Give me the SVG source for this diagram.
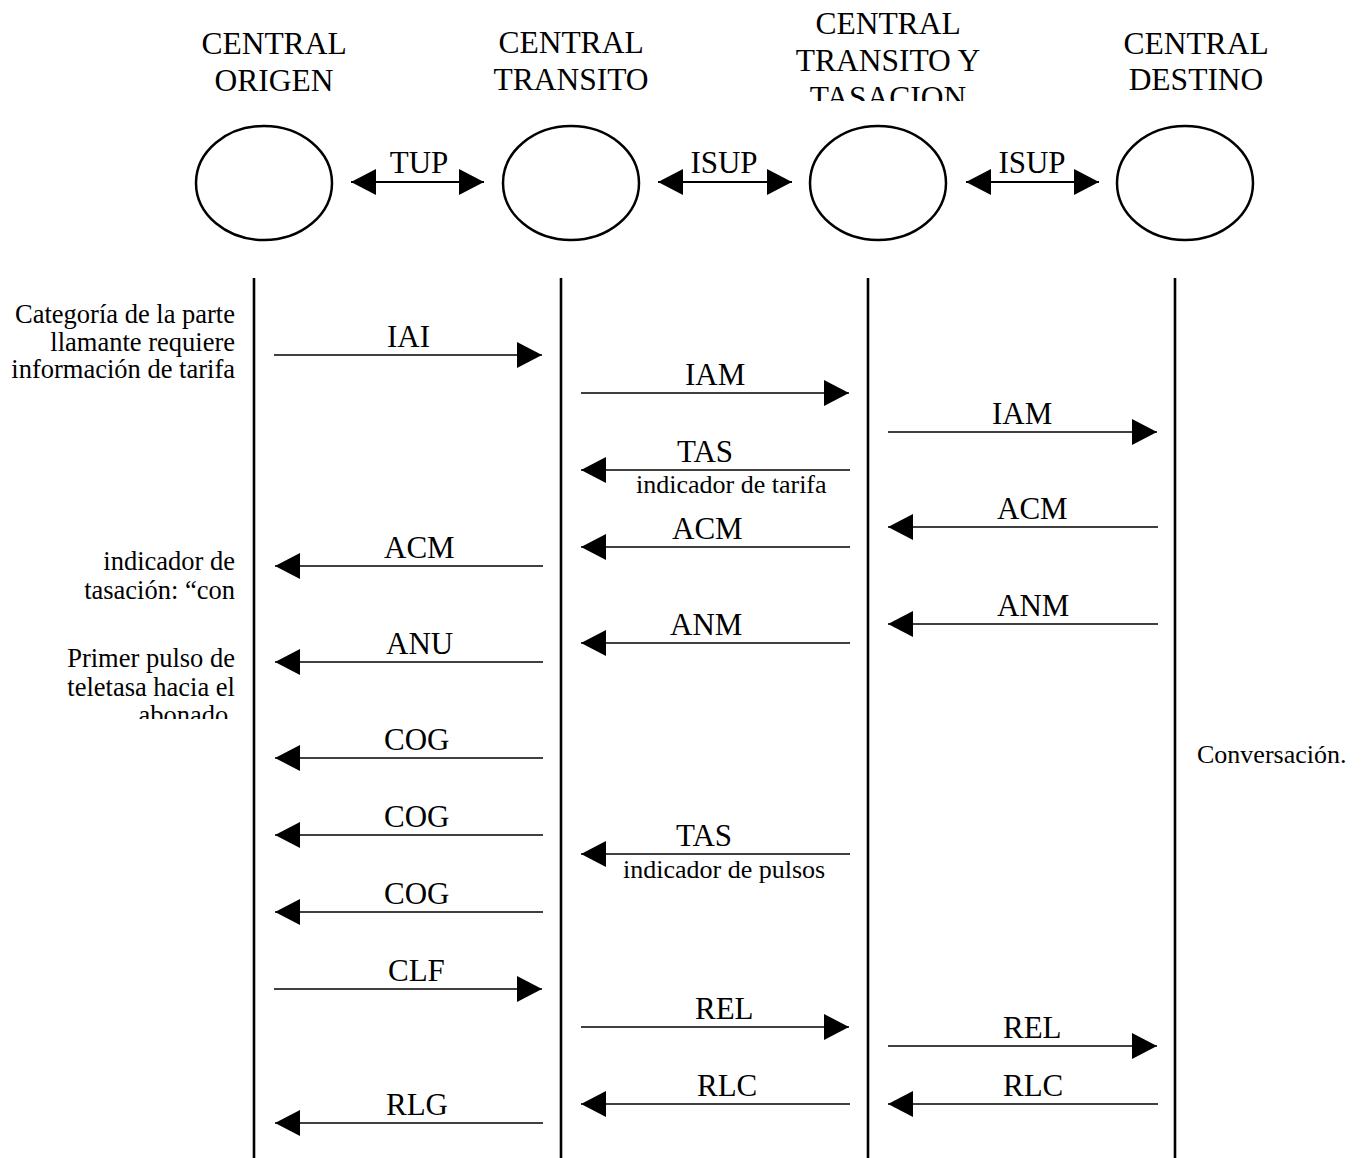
<svg xmlns="http://www.w3.org/2000/svg" width="1367" height="1158" viewBox="0 0 1367 1158">
<style>
text{font-family:"Liberation Serif","Times New Roman",serif;fill:#000}
.hd{font-size:31.5px;text-anchor:middle}
.pr{font-size:31px;text-anchor:middle}
.lb{font-size:31px}
.sm{font-size:26px}
.sd{font-size:26.5px;text-anchor:end}
.el{fill:#fff;stroke:#000;stroke-width:2.5}
.ll{stroke:#000;stroke-width:2.6;fill:none}
.ar{stroke:#000;stroke-width:1.7;fill:none;marker-end:url(#ah)}
.bi{stroke:#000;stroke-width:2;fill:none;marker-start:url(#ah);marker-end:url(#ah)}
</style>
<defs>
<marker id="ah" viewBox="0 0 25 26" refX="25" refY="13" markerWidth="25" markerHeight="26" markerUnits="userSpaceOnUse" orient="auto-start-reverse">
<path d="M0,0 L25,13 L0,26 Z" fill="#000"/>
</marker>
<clipPath id="c3"><rect x="700" y="0" width="400" height="101"/></clipPath>
<clipPath id="cs"><rect x="0" y="630" width="250" height="89"/></clipPath>
</defs>
<rect width="1367" height="1158" fill="#fff"/>

<g id="node-origen">
<text class="hd" x="274" y="54">CENTRAL</text>
<text class="hd" x="274" y="91">ORIGEN</text>
<ellipse class="el" cx="264" cy="183" rx="68" ry="57"/>
</g>
<g id="node-transito">
<text class="hd" x="571" y="53">CENTRAL</text>
<text class="hd" x="571" y="90">TRANSITO</text>
<ellipse class="el" cx="571" cy="183" rx="68" ry="57"/>
</g>
<g id="node-transito-tasacion">
<g clip-path="url(#c3)">
<text class="hd" x="888" y="34">CENTRAL</text>
<text class="hd" x="888" y="71">TRANSITO Y</text>
<text class="hd" x="888" y="108">TASACION</text>
</g>
<ellipse class="el" cx="878" cy="183" rx="68" ry="57"/>
</g>
<g id="node-destino">
<text class="hd" x="1196" y="54">CENTRAL</text>
<text class="hd" x="1196" y="90">DESTINO</text>
<ellipse class="el" cx="1185" cy="183" rx="68" ry="57"/>
</g>

<g id="lifelines">
<line class="ll" x1="254" y1="278" x2="254" y2="1158"/>
<line class="ll" x1="561" y1="278" x2="561" y2="1158"/>
<line class="ll" x1="868" y1="278" x2="868" y2="1158"/>
<line class="ll" x1="1175" y1="278" x2="1175" y2="1158"/>
</g>

<g id="connectors">
<line class="bi" x1="351" y1="182" x2="484" y2="182"/>
<line class="bi" x1="658" y1="182" x2="792" y2="182"/>
<line class="bi" x1="966" y1="182" x2="1099" y2="182"/>

<line class="ar" x1="274" y1="355" x2="542" y2="355"/>
<line class="ar" x1="581" y1="393" x2="849" y2="393"/>
<line class="ar" x1="888" y1="432" x2="1157" y2="432"/>
<line class="ar" x1="850" y1="470" x2="581" y2="470"/>
<line class="ar" x1="1158" y1="527" x2="888" y2="527"/>
<line class="ar" x1="850" y1="547" x2="581" y2="547"/>
<line class="ar" x1="543" y1="566" x2="275" y2="566"/>
<line class="ar" x1="1158" y1="624" x2="888" y2="624"/>
<line class="ar" x1="850" y1="643" x2="581" y2="643"/>
<line class="ar" x1="543" y1="662" x2="275" y2="662"/>
<line class="ar" x1="543" y1="758" x2="275" y2="758"/>
<line class="ar" x1="543" y1="835" x2="275" y2="835"/>
<line class="ar" x1="850" y1="854" x2="581" y2="854"/>
<line class="ar" x1="543" y1="912" x2="275" y2="912"/>
<line class="ar" x1="274" y1="989" x2="542" y2="989"/>
<line class="ar" x1="581" y1="1027" x2="849" y2="1027"/>
<line class="ar" x1="888" y1="1046" x2="1157" y2="1046"/>
<line class="ar" x1="850" y1="1104" x2="581" y2="1104"/>
<line class="ar" x1="1158" y1="1104" x2="888" y2="1104"/>
<line class="ar" x1="543" y1="1123" x2="275" y2="1123"/>
</g>

<g id="labels">
<text class="pr" x="419" y="173">TUP</text>
<text class="pr" x="724" y="173">ISUP</text>
<text class="pr" x="1032" y="173">ISUP</text>

<text class="lb" x="387" y="347">IAI</text>
<text class="lb" x="685" y="385">IAM</text>
<text class="lb" x="992" y="424">IAM</text>
<text class="lb" x="677" y="462">TAS</text>
<text class="sm" x="636" y="493">indicador de tarifa</text>
<text class="lb" x="997" y="519">ACM</text>
<text class="lb" x="672" y="539">ACM</text>
<text class="lb" x="384" y="558">ACM</text>
<text class="lb" x="997" y="616">ANM</text>
<text class="lb" x="670" y="635">ANM</text>
<text class="lb" x="386" y="654">ANU</text>
<text class="lb" x="384" y="750">COG</text>
<text class="lb" x="384" y="827">COG</text>
<text class="lb" x="676" y="846">TAS</text>
<text class="sm" x="623" y="878">indicador de pulsos</text>
<text class="lb" x="384" y="904">COG</text>
<text class="lb" x="388" y="981">CLF</text>
<text class="lb" x="695" y="1019">REL</text>
<text class="lb" x="1003" y="1038">REL</text>
<text class="lb" x="697" y="1096">RLC</text>
<text class="lb" x="1003" y="1096">RLC</text>
<text class="lb" x="386" y="1115">RLG</text>
</g>

<g id="notes">
<text class="sd" x="235" y="323">Categoría de la parte</text>
<text class="sd" x="235" y="350.5">llamante requiere</text>
<text class="sd" x="235" y="378">información de tarifa</text>
<text class="sd" x="235" y="570">indicador de</text>
<text class="sd" x="235" y="598.5">tasación: “con</text>
<text class="sd" x="235" y="667">Primer pulso de</text>
<text class="sd" x="235" y="695.5">teletasa hacia el</text>
<g clip-path="url(#cs)">
<text class="sd" x="235" y="724">abonado.</text>
</g>
<text class="sm" x="1197" y="763">Conversación.</text>
</g>
</svg>
